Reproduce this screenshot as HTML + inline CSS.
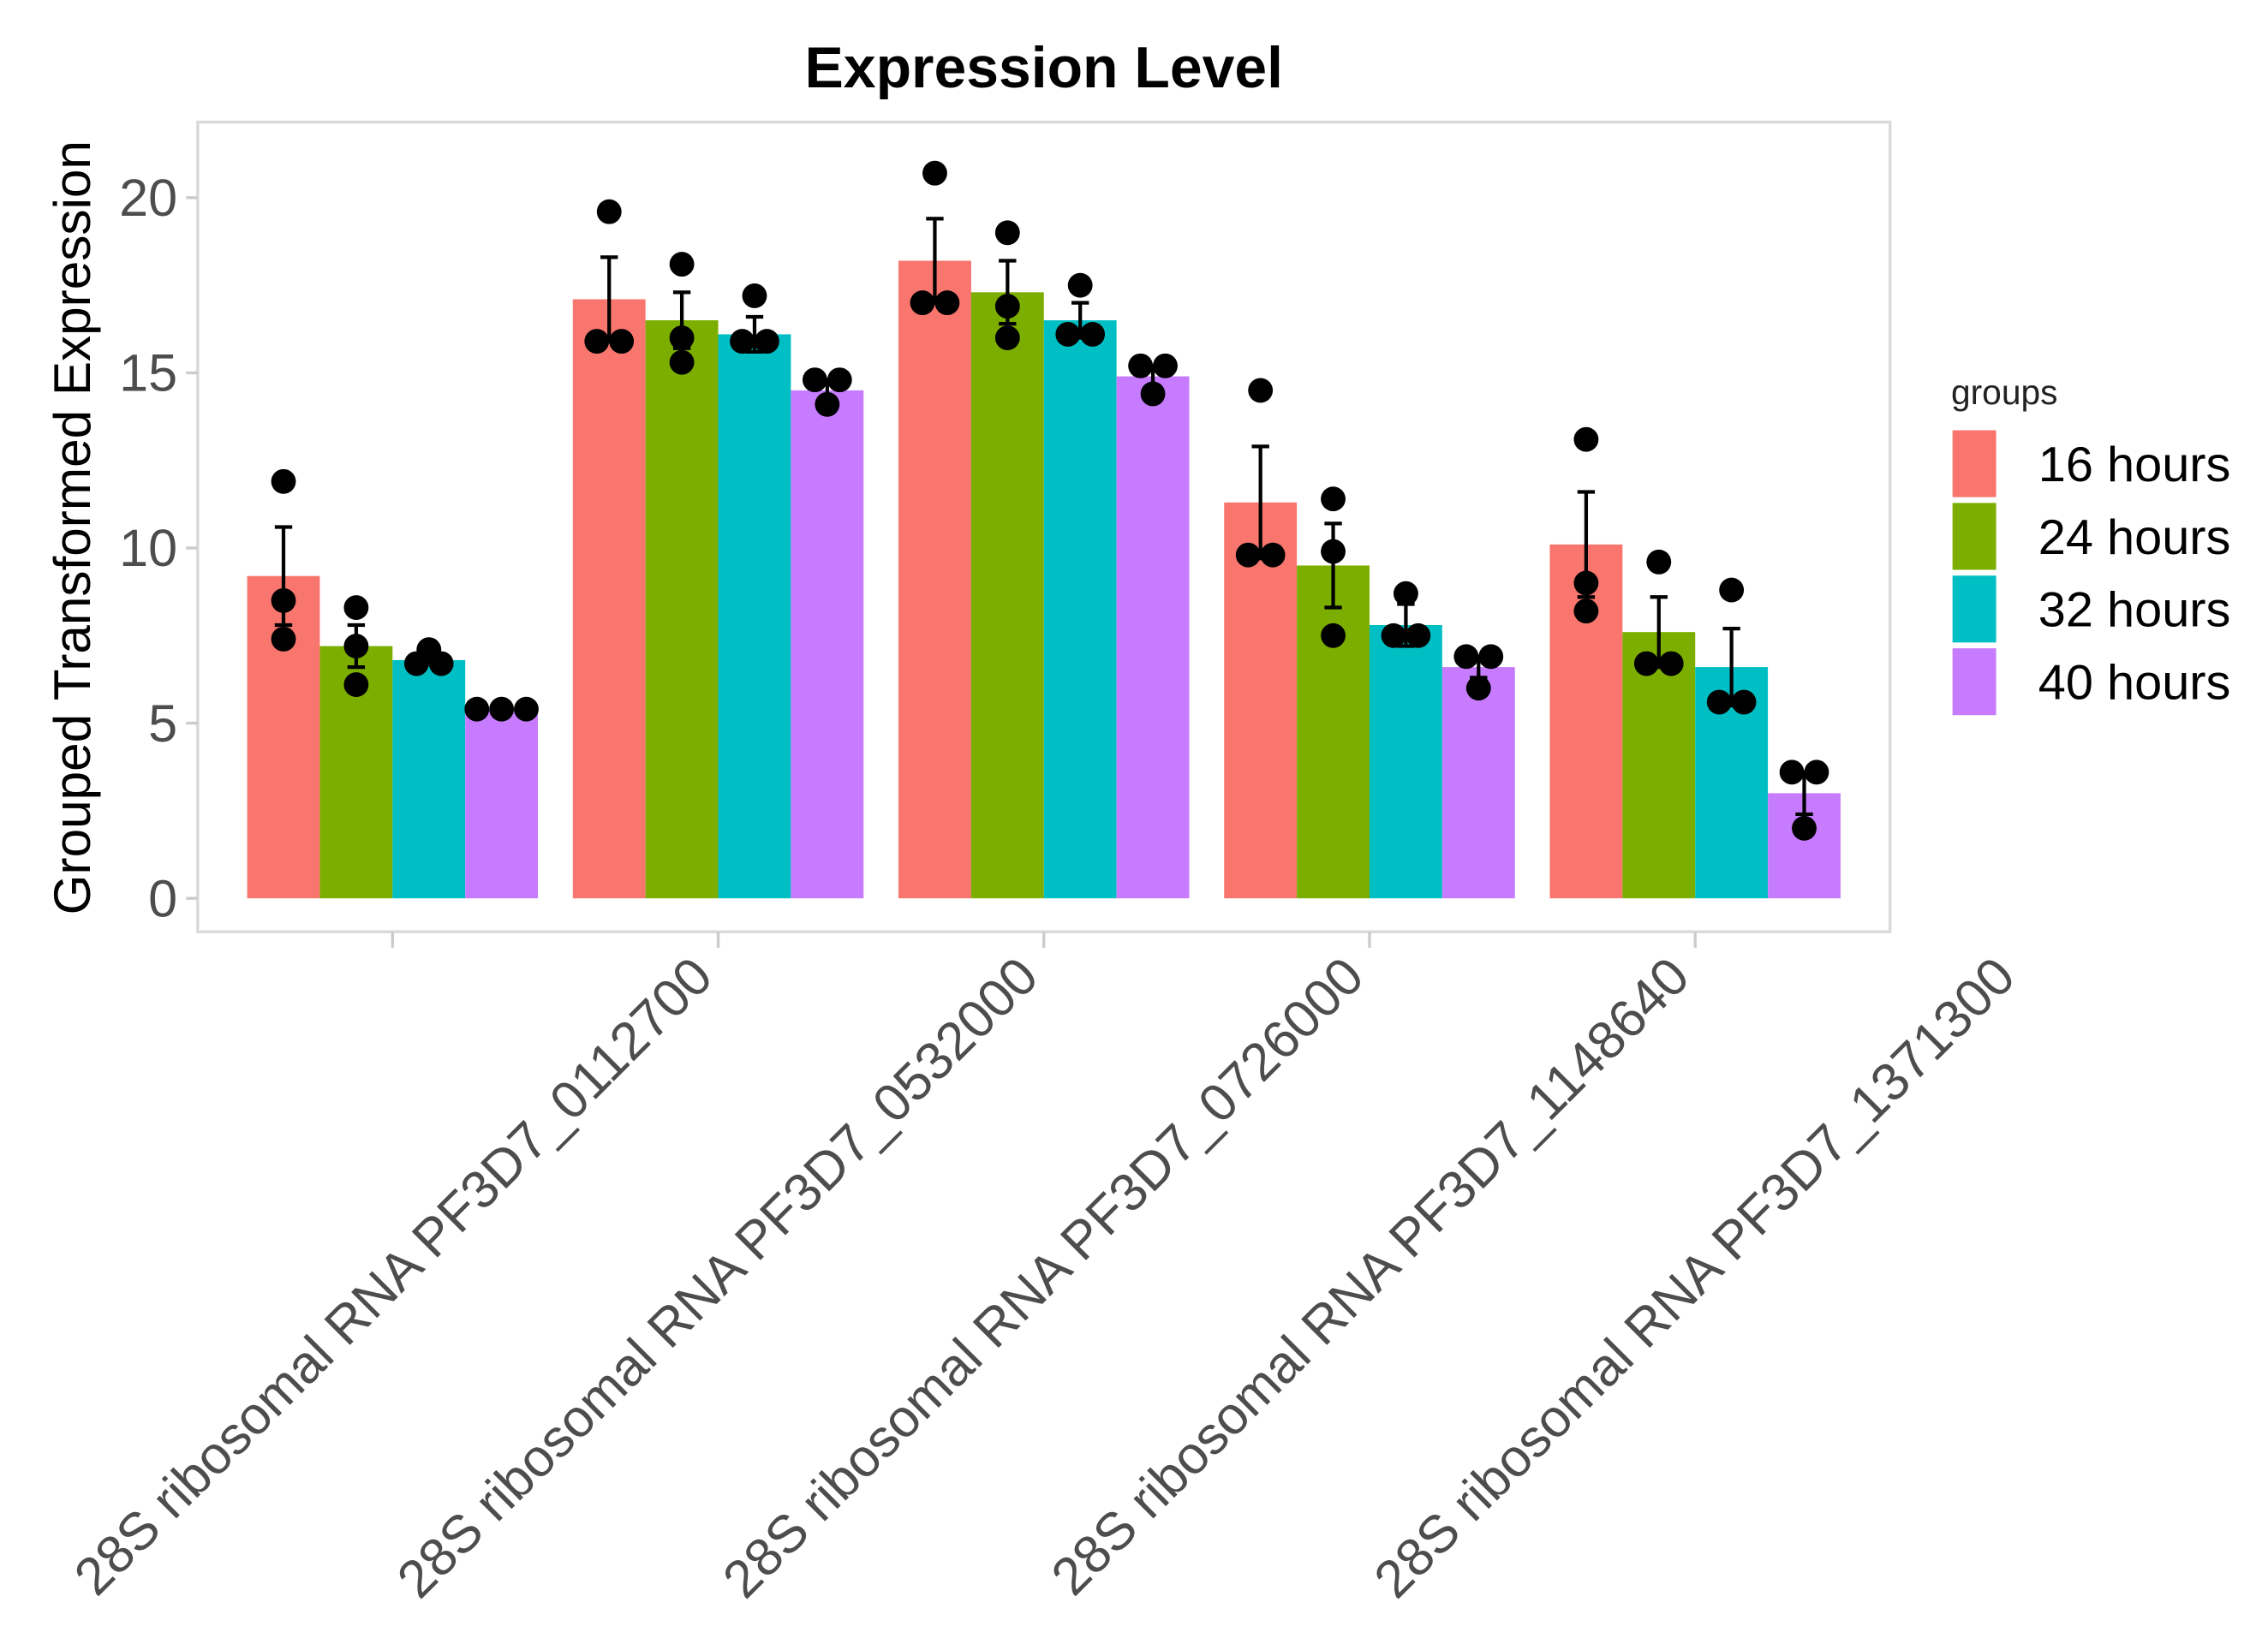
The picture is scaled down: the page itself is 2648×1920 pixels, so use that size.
<!DOCTYPE html>
<html><head><meta charset="utf-8"><style>html,body{margin:0;padding:0;background:#fff}svg{display:block}</style></head>
<body>
<svg id="chart" width="2648" height="1920" viewBox="0 0 1560 1131" preserveAspectRatio="none" xmlns="http://www.w3.org/2000/svg" font-family="Liberation Sans, Arial, sans-serif">
<rect width="1560" height="1131" fill="#fff"/>
<text x="718" y="60" text-anchor="middle" font-size="40" font-weight="bold" fill="#000">Expression Level</text>
<rect x="136" y="84" width="1164" height="557" fill="none" stroke="#d9d9d9" stroke-width="2"/>
<text transform="translate(62,363) rotate(-90)" text-anchor="middle" font-size="35.5" fill="#000">Grouped Transformed Expression</text>
<g id="yaxis"></g><g id="bars"></g><g id="xaxis"></g>
<g id="legend">
<text x="1342" y="278" font-size="24" fill="#222">groups</text>
</g>
</svg>
<script>
const categories = ["28S ribosomal RNA PF3D7_0112700","28S ribosomal RNA PF3D7_0532000","28S ribosomal RNA PF3D7_0726000","28S ribosomal RNA PF3D7_1148640","28S ribosomal RNA PF3D7_1371300"];
const groups = ["16 hours","24 hours","32 hours","40 hours"];
const colors = ["#F8766D","#7CAE00","#00BFC4","#C77CFF"];
const yTicks = [0,5,10,15,20];
const means16 = [9.2,17.1,18.2,11.3,10.1];
const means24 = [7.2,16.5,17.3,9.5,7.6];
const means32 = [6.8,16.1,16.5,7.8,6.6];
const means40 = [5.4,14.5,14.9,6.6,3.0];
const errTop16 = [10.6,18.3,19.4,12.9,11.6];
const errTop24 = [7.8,17.3,18.2,10.7,8.6];
const errTop32 = [6.9,16.6,17.0,8.4,7.7];
const errTop40 = [5.4,14.8,15.2,6.9,3.6];
const pts16 = [[11.9,8.5,7.4],[19.6,15.9,15.9],[20.7,17.0,17.0],[14.5,9.8,9.8],[13.1,9.0,8.2]];
const pts24 = [[8.3,7.2,6.1],[18.1,16.0,15.3],[19.0,16.9,16.0],[11.4,9.9,7.5],[9.6,6.7,6.7]];
const pts32 = [[7.1,6.7,6.7],[17.2,15.9,15.9],[17.5,16.1,16.1],[8.7,7.5,7.5],[8.8,5.6,5.6]];
const pts40 = [[5.4,5.4,5.4],[14.8,14.8,14.1],[15.2,15.2,14.4],[6.9,6.9,6.0],[3.6,3.6,2.0]];

const means=[means16,means24,means32,means40], errs=[errTop16,errTop24,errTop32,errTop40], pts=[pts16,pts24,pts32,pts40];
const NS="http://www.w3.org/2000/svg";
const y0=618, yPer=(618-136)/20;
function yScale(v){return y0 - v*yPer;}
const gStart=170, gStep=224, barW=50;
function xBar(gi,si){return gStart + gi*gStep + si*barW;}
function xCenter(gi){return gStart + gi*gStep + 2*barW;}
function mk(tag,attrs,parent){const e=document.createElementNS(NS,tag);for(const k in attrs)e.setAttribute(k,attrs[k]);parent.appendChild(e);return e;}

const ya=document.getElementById('yaxis');
yTicks.forEach(t=>{
  const l=mk('line',{x1:128,x2:136,y1:yScale(t),y2:yScale(t),stroke:'#ccc','stroke-width':2},ya);
  
  
  const tx=mk('text',{x:122,y:yScale(t)+12.5,'text-anchor':'end','font-size':36,fill:'#4d4d4d'},ya);
  tx.textContent=t;
  
  
});

const bg=document.getElementById('bars');
categories.forEach((c,gi)=>{
  groups.forEach((g,si)=>{
    const m=means[si][gi], x=xBar(gi,si);
    const r=mk('rect',{x:x,y:yScale(m),width:barW,height:yScale(0)-yScale(m),fill:colors[si]},bg);
    
    
  });
  groups.forEach((g,si)=>{
    const m=means[si][gi], e=errs[si][gi], lo=m-(e-m), cx=xBar(gi,si)+barW/2;
    if(e>m+0.05){
      const eb=mk('g',{stroke:'#000','stroke-width':2.5},bg);
      
      
      mk('line',{x1:cx,x2:cx,y1:yScale(e),y2:yScale(lo)},eb);
      mk('line',{x1:cx-6,x2:cx+6,y1:yScale(e),y2:yScale(e)},eb);
      mk('line',{x1:cx-6,x2:cx+6,y1:yScale(lo),y2:yScale(lo)},eb);
    }
    const p=pts[si][gi];
    const counts={};p.forEach(v=>{counts[v]=(counts[v]||0)+1;});
    const seen={};
    p.forEach(v=>{
      const n=counts[v], k=(seen[v]=(seen[v]||0)+1)-1;
      const dx=n>1?(k-(n-1)/2)*17:0;
      const d=mk('circle',{cx:cx+dx,cy:yScale(v),r:8.5,fill:'#000'},bg);
      
      
    });
  });
});

const xa=document.getElementById('xaxis');
categories.forEach((c,gi)=>{
  const cx=xCenter(gi);
  const l=mk('line',{x1:cx,x2:cx,y1:641,y2:652,stroke:'#ccc','stroke-width':2},xa);
  
  
  const ax=cx+gStep-2, ay=674;
  const t=mk('text',{x:ax,y:ay,'text-anchor':'end','font-size':36.5,fill:'#4d4d4d',transform:'rotate(-45 '+ax+' '+ay+')'},xa);
  t.textContent=c;
  
  
});

const lg=document.getElementById('legend');
groups.forEach((g,i)=>{
  const y=296+i*50;
  const r=mk('rect',{x:1343,y:y,width:30,height:46,fill:colors[i]},lg);
  
  
  const t=mk('text',{x:1402,y:y+35,'font-size':34,fill:'#000'},lg);
  t.textContent=g;
  
  
});
</script>
</body></html>
